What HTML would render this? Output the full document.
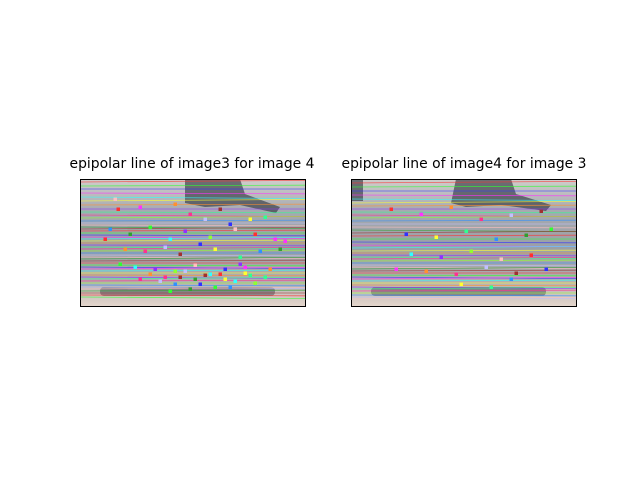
<!DOCTYPE html>
<html><head><meta charset="utf-8"><style>
body{margin:0;background:#fff;width:640px;height:480px;overflow:hidden;font-family:"DejaVu Sans","Liberation Sans",sans-serif}
.t{position:absolute;font-size:13.9px;color:#000;white-space:nowrap;transform:translateX(-50%)}
svg{position:absolute}
</style></head><body>
<div class="t" style="left:192px;top:156px">epipolar line of image3 for image 4</div>
<div class="t" style="left:464px;top:156px">epipolar line of image4 for image 3</div>
<svg id="a1" style="left:80px;top:179px" width="226" height="128" viewBox="0 0 226 128"></svg>
<svg id="a2" style="left:351px;top:179px" width="226" height="128" viewBox="0 0 226 128"></svg>
<script>
const lineYLeft=[3,7,10,14,18,22,26,30,33,36,39,42,44,46,48,50,52,54,56,58,60,62,64,66,68,70,72,74,76,78,80,82,84,86,88,90,92,94,96,98,100,102,104,106,108,110,112,114,116,118];
const lineYRight=[4,8,12,16,20,24,27,30,33,36,39,42,45,48,51,54,57,60,63,66,69,72,74,76,78,80,82,84,86,88,90,92,94,96,98,100,102,104,106,108,110,112,114,116,118,120];
const ptsXLeft=[38,60,95,110,125,140,150,170,185,30,50,70,90,105,130,155,175,195,45,65,85,100,120,135,160,180,200,40,55,75,95,115,140,165,190,60,80,100,120,145,170,150,110,90,130,160,175,35,25,205,70,85,105,125,145,165,185,95,115,135,155];
const ptsYLeft=[30,28,25,35,40,30,45,40,38,50,55,48,60,52,58,50,55,60,70,72,68,75,65,70,78,72,70,85,88,90,92,86,95,88,90,100,102,98,105,100,96,108,110,112,95,85,104,20,60,62,95,98,92,96,90,94,98,105,100,108,102];
const ptsXRight=[40,70,100,130,160,190,55,85,115,145,175,200,60,90,120,150,180,45,75,105,135,165,195,110,140,160];
const ptsYRight=[30,35,28,40,36,32,55,58,52,60,56,50,75,78,72,80,76,90,92,95,88,94,90,105,108,100];
const colors=['#ff3030','#30ff30','#3030ff','#ff30ff','#30ffff','#ffff30','#ff9030','#9030ff','#30ff90','#ff3090','#90ff30','#3090ff','#c0c0ff','#ffc0c0','#30a030','#a03030'];
const NS='http://www.w3.org/2000/svg';
function mk(t,a){const e=document.createElementNS(NS,t);for(const k in a)e.setAttribute(k,a[k]);return e;}
function draw(id,ly,px,py,dark){
  const s=document.getElementById(id);
  const W=225,H=127;
  const g=mk('defs',{});g.innerHTML='<linearGradient id="g'+id+'" x1="0" y1="0" x2="0" y2="1"><stop offset="0" stop-color="#d0cecc"/><stop offset="0.25" stop-color="#a6aab0"/><stop offset="0.55" stop-color="#9aa0a6"/><stop offset="0.8" stop-color="#b0aeb0"/><stop offset="1" stop-color="#e4d6cc"/></linearGradient>';
  s.appendChild(g);
  const bg=mk('rect',{x:0,y:0,width:W,height:H,fill:'url(#g'+id+')'});
  
  
  s.appendChild(bg);
  const d1=mk('path',{d:dark,fill:'#2a2e38',opacity:0.6});
  
  
  s.appendChild(d1);
  const d2=mk('rect',{x:20,y:108,width:175,height:9,rx:4,fill:'#50545c',opacity:0.55});
  
  
  s.appendChild(d2);
  ly.forEach((y,i)=>{
    const l=mk('line',{x1:0,x2:W,y1:y,y2:y+((i%5)-2)*0.8,stroke:colors[i%colors.length],'stroke-width':0.8,opacity:0.7});
    
    
    s.appendChild(l);
  });
  px.forEach((x,i)=>{
    const c=mk('rect',{x:x-1.5,y:py[i]-1.5,width:3.5,height:3.5,fill:colors[(i*3)%colors.length]});
    
    
    s.appendChild(c);
  });
  const f=mk('rect',{x:0.5,y:0.5,width:W,height:H,fill:'none',stroke:'#000','stroke-width':1});
  
  
  s.appendChild(f);
}
draw('a1',lineYLeft,ptsXLeft,ptsYLeft,'M105 0 L160 0 L165 15 L200 28 L196 34 L160 26 L125 28 L105 24 Z');
draw('a2',lineYRight,ptsXRight,ptsYRight,'M105 0 L160 0 L165 15 L200 26 L195 32 L150 26 L115 28 L100 24 Z M0 0 L12 0 L12 22 L0 22 Z');
</script>
</body></html>
